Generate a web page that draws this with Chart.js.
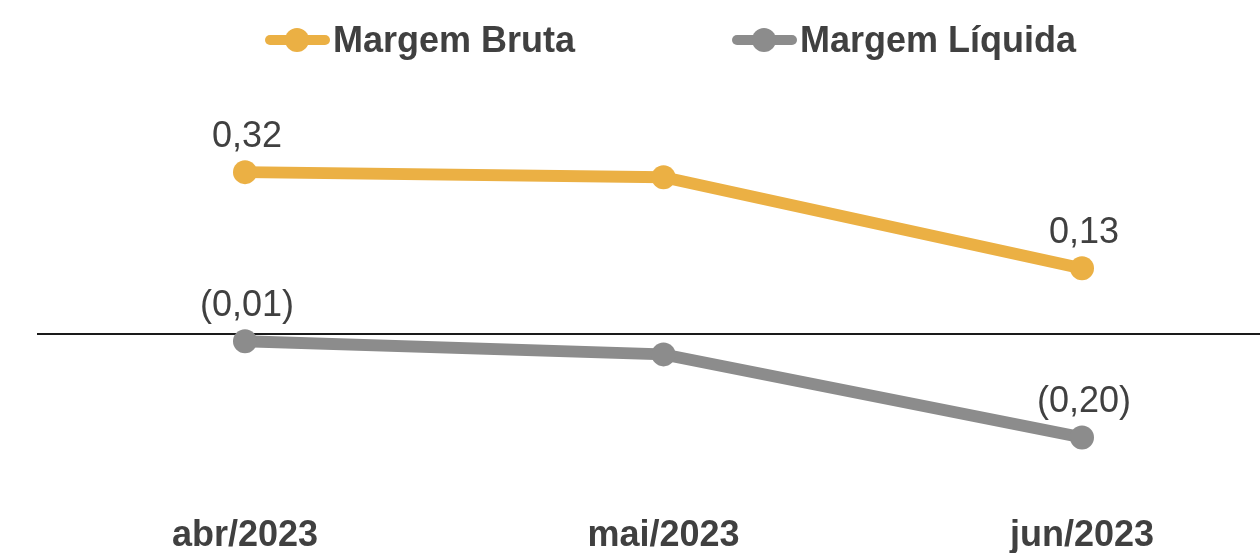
<!DOCTYPE html>
<html>
<head>
<meta charset="utf-8">
<script src="https://cdn.jsdelivr.net/npm/chart.js@4"></script>
<style>
  html, body { margin: 0; padding: 0; background: #fff; }
  #wrap { position: relative; width: 1260px; height: 553px; }
  #legend { position: absolute; left: 265px; top: 22px; display: flex; height: 36px;
    font: bold 36px "Liberation Sans", Arial, sans-serif; color: #404040; line-height: 36px; }
  .item { display: flex; align-items: center; margin-right: 157px; white-space: nowrap; }
  .sym { position: relative; width: 65px; height: 24px; margin-right: 3px; }
  .sym .ln { position: absolute; left: 0; right: 0; top: 7px; height: 10px; border-radius: 5px; }
  .sym .dot { position: absolute; left: 20px; top: 0; width: 24px; height: 24px; border-radius: 50%; }
</style>
</head>
<body>
<div id="wrap">
  <canvas id="chart" width="1260" height="553"></canvas>
  <div id="legend"></div>
</div>
<script>
// dados
var meses = ['abr/2023', 'mai/2023', 'jun/2023'];
var margemBruta = [0.32, 0.31, 0.13];
var margemLiquida = [-0.014, -0.04, -0.204];
var mostrarRotulo = [true, false, true];

var corBruta = '#EBB044';
var corLiquida = '#8C8C8C';

function fmt(v) {
  var s = Math.abs(v).toFixed(2).replace('.', ',');
  return v < 0 ? '(' + s + ')' : s;
}

// linha do zero, da borda esquerda até o fim do canvas
var linhaZero = {
  id: 'linhaZero',
  beforeDatasetsDraw: function(chart) {
    var ctx = chart.ctx;
    var y = Math.round(chart.scales.y.getPixelForValue(0));
    ctx.save();
    ctx.strokeStyle = '#1a1a1a';
    ctx.lineWidth = 2;
    ctx.beginPath();
    ctx.moveTo(37, y);
    ctx.lineTo(chart.width, y);
    ctx.stroke();
    ctx.restore();
  }
};

// rótulos dos valores acima dos pontos
var rotulos = {
  id: 'rotulos',
  afterDatasetsDraw: function(chart) {
    var ctx = chart.ctx;
    ctx.save();
    ctx.font = '36px "Liberation Sans", Arial, sans-serif';
    ctx.fillStyle = '#404040';
    ctx.textAlign = 'center';
    ctx.textBaseline = 'middle';
    chart.data.datasets.forEach(function(ds, i) {
      var meta = chart.getDatasetMeta(i);
      meta.data.forEach(function(pt, j) {
        if (!mostrarRotulo[j]) return;
        ctx.fillText(fmt(ds.data[j]), pt.x + 2, pt.y - 35);
      });
    });
    ctx.restore();
  }
};

var ctx = document.getElementById('chart');
var myChart = new Chart(ctx, {
  type: 'line',
  data: {
    labels: meses,
    datasets: [{
      label: 'Margem Bruta',
      data: margemBruta,
      borderColor: corBruta,
      backgroundColor: corBruta,
      borderWidth: 12,
      pointRadius: 12,
      pointBorderWidth: 0,
      tension: 0
    }, {
      label: 'Margem Líquida',
      data: margemLiquida,
      borderColor: corLiquida,
      backgroundColor: corLiquida,
      borderWidth: 12,
      pointRadius: 12,
      pointBorderWidth: 0,
      tension: 0
    }]
  },
  options: {
    responsive: false,
    animation: false,
    layout: { padding: { left: 245, right: 178, top: 81, bottom: 0 } },
    plugins: {
      legend: { display: false },
      tooltip: { enabled: false }
    },
    scales: {
      x: {
        offset: false,
        grid: { display: false },
        border: { display: false },
        afterFit: function(scale) { scale.height = 67; },
        ticks: {
          padding: 20,
          color: '#404040',
          maxRotation: 0,
          font: { family: '"Liberation Sans", Arial, sans-serif', size: 36, weight: 'bold' }
        }
      },
      y: {
        display: false,
        min: -0.3,
        max: 0.5
      }
    }
  },
  plugins: [linhaZero, rotulos]
});

// legenda em HTML
var leg = document.getElementById('legend');
myChart.data.datasets.forEach(function(ds) {
  var item = document.createElement('div');
  item.className = 'item';
  var sym = document.createElement('span');
  sym.className = 'sym';
  var ln = document.createElement('span');
  ln.className = 'ln';
  ln.style.background = ds.borderColor;
  var dot = document.createElement('span');
  dot.className = 'dot';
  dot.style.background = ds.borderColor;
  sym.appendChild(ln);
  sym.appendChild(dot);
  item.appendChild(sym);
  item.appendChild(document.createTextNode(ds.label));
  leg.appendChild(item);
});
</script>
</body>
</html>
